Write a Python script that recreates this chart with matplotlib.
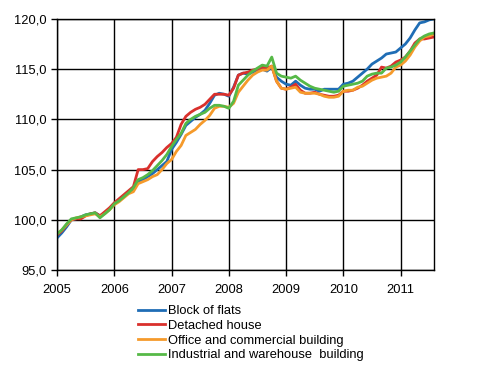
import numpy as np
import matplotlib
matplotlib.use("Agg")
import matplotlib.pyplot as plt
from matplotlib.ticker import FuncFormatter

plt.rcParams['font.family'] = ['Liberation Sans', 'DejaVu Sans']

# monthly index values, Jan 2005 - Aug 2011
start_year = 2005
labels = ['Block of flats', 'Detached house', 'Office and commercial building',
          'Industrial and warehouse  building']
colors = ['#1f6db5', '#d9302c', '#f59a2b', '#56b947']

flats = [98.2, 98.7, 99.3, 100.0, 100.1, 100.3, 100.5, 100.6, 100.7, 100.4, 100.7, 101.1,
         101.6, 101.9, 102.3, 102.7, 103.0, 103.8, 104.0, 104.3, 104.6, 105.0, 105.4, 105.8,
         107.0, 107.7, 108.5, 109.4, 109.8, 110.2, 110.5, 110.9, 111.6, 112.4, 112.6, 112.5,
         112.3, 113.2, 114.4, 114.6, 114.5, 114.7, 114.9, 115.0, 114.8, 115.2, 114.2, 113.8,
         113.5, 113.4, 113.8, 113.4, 113.1, 113.0, 113.0, 112.8, 113.0, 113.0, 113.0, 113.0,
         113.5, 113.6, 113.8, 114.2, 114.6, 115.0, 115.5, 115.8, 116.1, 116.5, 116.6, 116.7,
         117.1, 117.5, 118.1, 118.9, 119.6, 119.7, 119.9, 120.0]
detached = [98.5, 98.9, 99.5, 100.0, 100.1, 100.1, 100.4, 100.6, 100.7, 100.4, 100.8, 101.2,
            101.7, 102.1, 102.5, 102.9, 103.3, 105.0, 105.0, 105.1, 105.8, 106.3, 106.7, 107.2,
            107.6, 108.2, 109.5, 110.3, 110.7, 111.0, 111.2, 111.5, 112.0, 112.5, 112.5, 112.5,
            112.4, 113.1, 114.4, 114.6, 114.7, 114.9, 115.0, 115.2, 115.1, 115.3, 113.8, 113.1,
            113.0, 113.2, 113.5, 112.9, 112.6, 112.6, 112.7, 112.5, 112.4, 112.3, 112.3, 112.4,
            112.8, 112.8, 112.9, 113.1, 113.4, 113.8, 114.1, 114.4, 115.2, 115.1, 115.3, 115.7,
            115.9, 116.2, 116.8, 117.6, 118.0, 118.0, 118.1, 118.2]
office = [98.6, 99.0, 99.5, 100.0, 100.2, 100.3, 100.4, 100.5, 100.6, 100.3, 100.6, 101.0,
          101.5, 101.8, 102.2, 102.6, 102.8, 103.6, 103.8, 104.0, 104.3, 104.5, 105.0, 105.6,
          106.0, 106.8, 107.4, 108.4, 108.7, 109.0, 109.5, 109.9, 110.4, 111.1, 111.3, 111.3,
          111.2, 111.6, 112.7, 113.3, 113.9, 114.4, 114.7, 114.9, 114.9, 115.3, 113.8, 113.1,
          113.0, 113.1, 113.2, 112.7, 112.6, 112.6, 112.6, 112.5, 112.3, 112.2, 112.2, 112.3,
          112.8, 112.9, 112.9, 113.2, 113.3, 113.6, 113.9, 114.1, 114.2, 114.3, 114.6, 115.2,
          115.4, 115.8, 116.4, 117.2, 117.8, 118.2, 118.3, 118.5]
industrial = [98.6, 99.0, 99.6, 100.1, 100.2, 100.3, 100.5, 100.6, 100.7, 100.2, 100.6, 101.0,
              101.6, 101.9, 102.3, 102.7, 103.2, 104.0, 104.2, 104.5, 104.9, 105.4, 105.9, 106.5,
              107.3, 108.0, 108.6, 109.6, 110.0, 110.3, 110.5, 110.7, 111.1, 111.4, 111.4, 111.3,
              111.1, 111.8, 113.4, 113.9, 114.4, 114.8, 115.1, 115.4, 115.3, 116.2, 114.6, 114.3,
              114.2, 114.1, 114.3, 113.9, 113.6, 113.3, 113.1, 113.0, 112.9, 112.8, 112.7, 112.8,
              113.3, 113.4, 113.5, 113.6, 113.8, 114.3, 114.5, 114.6, 114.6, 115.1, 115.2, 115.4,
              115.7, 116.2, 116.8, 117.4, 118.0, 118.3, 118.5, 118.6]

series = [flats, detached, office, industrial]
x = start_year + np.arange(len(flats)) / 12.0

fig = plt.figure(figsize=(4.96, 3.70), dpi=100)
ax = fig.add_axes([0.115, 0.27, 0.76, 0.679])

for vals, lab, col in zip(series, labels, colors):
    ax.plot(x, vals, color=col, lw=2.0, label=lab)

ax.set_xlim(start_year, x[-1])
ax.set_ylim(95, 120)
ax.set_xticks(range(2005, 2012))
ax.set_yticks(np.arange(95, 121, 5))
ax.yaxis.set_major_formatter(FuncFormatter(lambda v, p: ('%.1f' % v).replace('.', ',')))
ax.grid(True, color='black', lw=1)
ax.set_axisbelow(True)
for s in ax.spines.values():
    s.set_color('black')
    s.set_linewidth(1)
ax.tick_params(direction='out', length=4, width=1, labelsize=9.3, colors='black')
ax.tick_params(axis='x', pad=6)

fig.legend(loc='upper left', bbox_to_anchor=(0.278, 0.175), frameon=False,
           fontsize=9.3, handlelength=2.1, handletextpad=0.2, labelspacing=0.2,
           borderaxespad=0, borderpad=0)

fig.savefig('out.png', dpi=100)
